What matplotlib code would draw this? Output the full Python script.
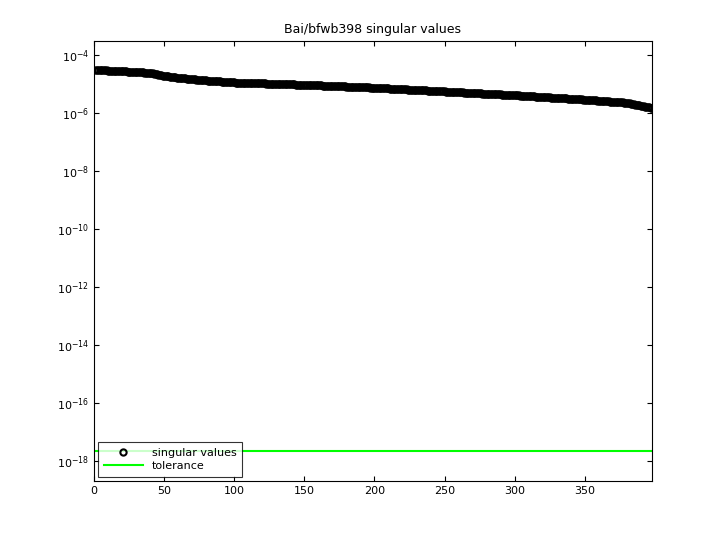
import numpy as np
import matplotlib
matplotlib.use("Agg")
import matplotlib.pyplot as plt

n = 398
knot_idx = [1, 20, 40, 50, 60, 80, 100, 150, 200, 250, 300, 350, 380, 398]
knot_exp = [-4.52, -4.56, -4.62, -4.72, -4.79, -4.88, -4.95, -5.03, -5.13, -5.26, -5.39, -5.54, -5.65, -5.83]
tolerance = 2.2e-18

idx = np.arange(1, n + 1)
sv = 10 ** np.interp(idx, knot_idx, knot_exp)

fig = plt.figure(figsize=(7.2, 5.4), dpi=100)
ax = fig.add_axes([94/720, 59/540, 558/720, 440/540])
ax.semilogy(idx, sv, 'o', mfc='none', mec='black', mew=1.5, ms=4.5, label='singular values')
ax.axhline(tolerance, color='#00ff00', lw=1.5, label='tolerance')
ax.set_xlim(0, 398)
ax.set_ylim(10**-18.69, 10**-3.52)
ax.set_yticks([10.0**k for k in range(-18, -3, 2)])
ax.minorticks_off()
ax.set_xticks(range(0, 351, 50))
ax.tick_params(direction='in', labelsize=8, top=True, right=True)
ax.set_title('Bai/bfwb398 singular values', fontsize=9)
leg = ax.legend(loc='lower left', fontsize=8, fancybox=False, edgecolor='black',
                borderaxespad=0.4, handlelength=3.5, labelspacing=0.3, borderpad=0.5)
leg.get_frame().set_linewidth(0.8)
fig.savefig('out.png')
